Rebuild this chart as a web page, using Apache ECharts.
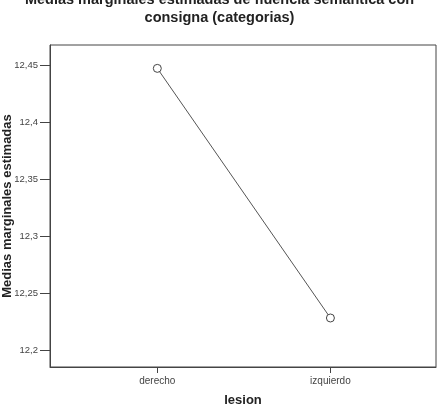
<!DOCTYPE html>
<html>
<head>
<meta charset="utf-8">
<script src="https://cdn.jsdelivr.net/npm/echarts@6/dist/echarts.min.js"></script>
<style>
  html, body { margin: 0; padding: 0; background: #fff; }
  #chart { width: 439px; height: 412px; }
</style>
</head>
<body>
<div id="chart"></div>
<script>
// categorias del factor lesion
const categorias = ["derecho", "izquierdo"]
// medias marginales estimadas
const medias = [12.447, 12.228]
// marcas del eje Y
const ticksY = [12.2, 12.25, 12.3, 12.35, 12.4, 12.45]

const chart = echarts.init(document.getElementById("chart"))

const fmtComa = v => String(+v.toFixed(2)).replace(".", ",")

const option = {
    backgroundColor: "#fff",
    animation: false,
    title: {
        text: "Medias marginales estimadas de fluencia semántica con\nconsigna (categorias)",
        left: "center",
        top: -14,
        textStyle: {
            fontFamily: "Liberation Sans",
            fontSize: 14.5,
            fontWeight: "bold",
            color: "#222",
            lineHeight: 18,
        },
    },
    grid: {
        left: 50,
        right: 3,
        top: 45,
        bottom: 45,
        outerBoundsMode: "none",
        containLabel: false,
        show: true,
        borderColor: "#444",
        borderWidth: 1,
    },
    xAxis: {
        type: "value",
        min: -0.62,
        max: 1.61,
        name: "lesion",
        nameLocation: "middle",
        nameGap: 27,
        nameMoveOverlap: false,
        nameTextStyle: {
            fontFamily: "Liberation Sans",
            fontSize: 13,
            fontWeight: "bold",
            color: "#222",
        },
        axisLine: { show: true, onZero: false, lineStyle: { color: "#444" } },
        axisTick: {
            show: true,
            length: 6,
            customValues: [0, 1],
            lineStyle: { color: "#444" },
        },
        axisLabel: {
            customValues: [0, 1],
            formatter: v => categorias[Math.round(v)],
            fontFamily: "Liberation Sans",
            fontSize: 10,
            color: "#444",
            margin: 9,
        },
        splitLine: { show: false },
    },
    yAxis: {
        type: "value",
        min: 12.185,
        max: 12.4675,
        name: "Medias marginales estimadas",
        nameLocation: "middle",
        nameGap: 36,
        nameMoveOverlap: false,
        nameTextStyle: {
            fontFamily: "Liberation Sans",
            fontSize: 13,
            fontWeight: "bold",
            color: "#222",
        },
        axisLine: { show: true, onZero: false, lineStyle: { color: "#444" } },
        axisTick: {
            show: true,
            length: 10,
            customValues: ticksY,
            lineStyle: { color: "#444" },
        },
        axisLabel: {
            customValues: ticksY,
            formatter: fmtComa,
            fontFamily: "Liberation Sans",
            fontSize: 9.5,
            color: "#444",
            margin: 12,
        },
        splitLine: { show: false },
    },
    series: [
        {
            type: "line",
            data: medias.map((v, i) => [i, v]),
            symbol: "circle",
            symbolSize: 8,
            showSymbol: true,
            clip: false,
            lineStyle: { color: "#555", width: 1 },
            itemStyle: { color: "#fff", borderColor: "#444", borderWidth: 1 },
        },
    ],
}

chart.setOption(option)
</script>
</body>
</html>
